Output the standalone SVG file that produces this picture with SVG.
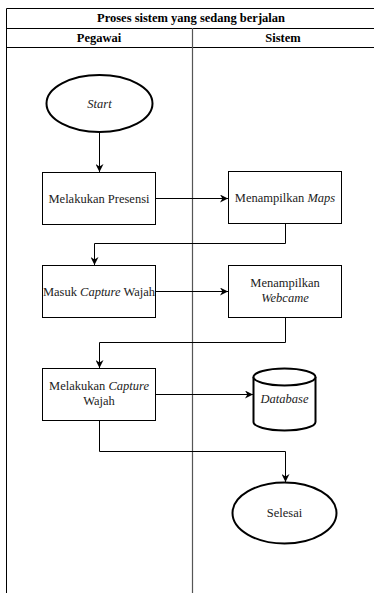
<svg xmlns="http://www.w3.org/2000/svg" width="374" height="593" viewBox="0 0 374 593">
<style>
.t{font-size:12.5px;fill:#222;text-anchor:middle}
.h{font-size:12.5px;font-weight:bold;fill:#000;text-anchor:middle}
.box{fill:#fff;stroke:#000;stroke-width:1}
.term{fill:#fff;stroke:#000;stroke-width:2}
.lane{fill:none;stroke:#000;stroke-width:1}
.conn{fill:none;stroke:#000;stroke-width:1;marker-end:url(#ah)}
</style>
<defs>
<marker id="ah" viewBox="0 0 10 10" refX="10" refY="5" markerWidth="8" markerHeight="8" markerUnits="userSpaceOnUse" orient="auto">
<path d="M0,0 L10,5 L0,10 L3,5 z" fill="#000"/>
</marker>
</defs>
<rect width="374" height="593" fill="#fff"/>
<g id="pool">
<path class="lane" d="M6.5,600 V8.5 H380"/>
<line class="lane" x1="6" y1="28.5" x2="380" y2="28.5"/>
<line class="lane" x1="6" y1="47.5" x2="380" y2="47.5"/>
<line x1="192.5" y1="28" x2="192.5" y2="600" stroke="#555" stroke-width="1.2"/>
<text class="h" font-family="Liberation Serif, serif" x="191" y="22">Proses sistem yang sedang berjalan</text>
<text class="h" font-family="Liberation Serif, serif" x="99" y="42">Pegawai</text>
<text class="h" font-family="Liberation Serif, serif" x="283" y="42">Sistem</text>
</g>
<g id="connectors">
<path class="conn" d="M99.5,132 V172"/>
<path class="conn" d="M156,198.5 H228"/>
<path class="conn" d="M285.5,223 V243.5 H94.5 V265"/>
<path class="conn" d="M156,291.5 H228"/>
<path class="conn" d="M285.5,317 V342.5 H99.5 V368"/>
<path class="conn" d="M156,394.5 H253"/>
<path class="conn" d="M99.5,420 V451.5 H285.5 V482"/>
</g>
<g id="start">
<ellipse class="term" cx="99.5" cy="103.5" rx="53" ry="28.5"/>
<text class="t" font-family="Liberation Serif, serif" x="99.5" y="107.5" font-style="italic">Start</text>
</g>
<g id="presensi">
<rect class="box" x="42.5" y="172.5" width="113" height="52"/>
<text class="t" font-family="Liberation Serif, serif" x="99" y="202.5">Melakukan Presensi</text>
</g>
<g id="maps">
<rect class="box" x="228.5" y="171.5" width="113" height="52"/>
<text class="t" font-family="Liberation Serif, serif" x="285" y="201.5">Menampilkan <tspan font-style="italic">Maps</tspan></text>
</g>
<g id="masuk">
<rect class="box" x="42.5" y="265.5" width="113" height="52"/>
<text class="t" font-family="Liberation Serif, serif" x="99" y="295.5">Masuk <tspan font-style="italic">Capture</tspan> Wajah</text>
</g>
<g id="webcame">
<rect class="box" x="228.5" y="265.5" width="113" height="52"/>
<text class="t" font-family="Liberation Serif, serif" x="285" y="287">Menampilkan</text>
<text class="t" font-family="Liberation Serif, serif" x="285" y="302" font-style="italic">Webcame</text>
</g>
<g id="capture">
<rect class="box" x="42.5" y="368.5" width="113" height="52"/>
<text class="t" font-family="Liberation Serif, serif" x="99" y="390">Melakukan <tspan font-style="italic">Capture</tspan></text>
<text class="t" font-family="Liberation Serif, serif" x="99" y="405">Wajah</text>
</g>
<g id="database">
<path class="term" d="M253.5,377 A31,8.5 0 0 1 315.5,377 V422 A31,8.5 0 0 1 253.5,422 Z"/>
<path class="term" d="M253.5,377 A31,8.5 0 0 0 315.5,377"/>
<text class="t" font-family="Liberation Serif, serif" x="284.5" y="403" font-style="italic">Database</text>
</g>
<g id="selesai">
<ellipse class="term" cx="284.5" cy="513" rx="52" ry="30.5"/>
<text class="t" font-family="Liberation Serif, serif" x="284.5" y="517">Selesai</text>
</g>
</svg>
